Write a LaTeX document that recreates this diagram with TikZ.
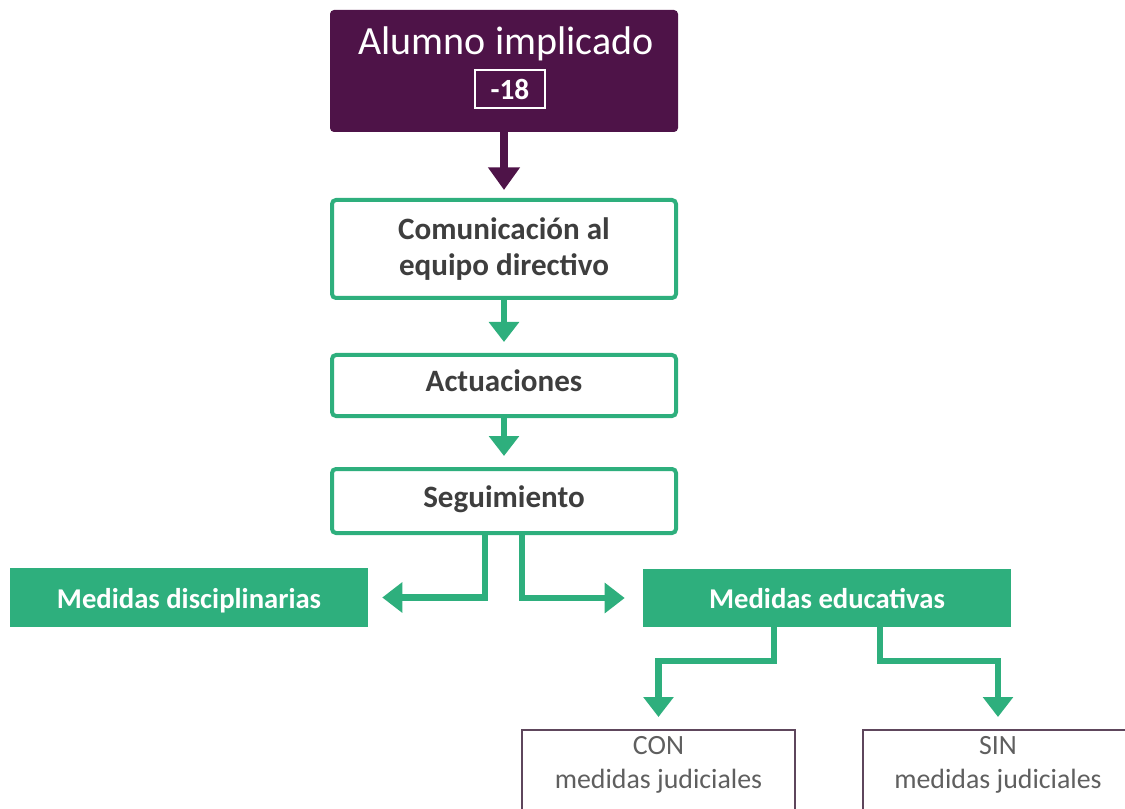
\documentclass[tikz,border=0pt]{standalone}
\usepackage{fontspec}
\setmainfont{Carlito}
\usepackage{tikz}
\newcommand{\boxwidth}{258pt}
\newcommand{\gap}{8.25pt}
\usetikzlibrary{arrows.meta,calc,positioning}
\definecolor{verde}{RGB}{46,175,125}
\definecolor{morado}{RGB}{78,19,72}
\definecolor{texto}{RGB}{62,62,62}
\definecolor{gris}{RGB}{95,95,95}
\definecolor{borde}{RGB}{94,70,92}
\tikzset{
  topbox/.style={fill=morado,rounded corners=3pt,minimum width=261pt,minimum height=91.5pt,inner sep=0},
  title/.style={text=white,font=\fontsize{30}{36}\selectfont,inner sep=0,anchor=base},
  agebox/.style={draw=white,line width=1.5pt,text=white,font=\bfseries\fontsize{22}{26}\selectfont,minimum width=52pt,minimum height=28pt,inner sep=0},
  stepbox/.style={draw=verde,line width=3pt,fill=white,rounded corners=3pt,minimum width=\boxwidth,text=texto,font=\bfseries\fontsize{23.3}{26.5}\selectfont,align=center,inner sep=0},
  oneline/.style={text height=15pt,text depth=6pt},
  measure/.style={fill=verde,text=white,font=\bfseries\fontsize{21.5}{25}\selectfont,inner sep=0,text height=16pt,text depth=0pt},
  judbox/.style={draw=borde,line width=1.2pt,text=gris,font=\fontsize{20.9}{25.5}\selectfont,align=center,anchor=north,inner xsep=0,inner ysep=5pt},
  line/.style={draw=verde,line width=5pt,-{Triangle[width=22pt,length=15pt]}},
  topline/.style={draw=morado,line width=6pt,-{Triangle[width=23pt,length=17pt]}}
}
\begin{document}
\begin{tikzpicture}[x=0.75pt,y=-0.75pt]
  \useasboundingbox (0,0) rectangle (1125,809);

  % top box
  \node (alumno) [topbox] at (504,71) {};
  \node (titulo) [title] at (506,55) {Alumno implicado};
  \node (edad) [agebox] at (510,89) {-18};

  % steps
  \node (comunic) [stepbox,minimum height=73.5pt] at (504,249) {Comunicación al\\equipo directivo};
  \node (actuac) [stepbox,oneline,minimum height=45.75pt] at (504,385.5) {Actuaciones};
  \node (seguim) [stepbox,oneline,minimum height=48pt] at (504,501) {Seguimiento};

  % measures
  \node (discip) [measure,minimum width=268.5pt,minimum height=44.25pt] at (189,597.5) {Medidas disciplinarias};
  \node (educ) [measure,minimum width=276pt,minimum height=43.5pt] at (827,598) {Medidas educativas};

  \node (con) [judbox,minimum width=204.75pt] at (658.5,729) {CON\\medidas judiciales\rule[-40pt]{0pt}{0pt}};
  \node (sin) [judbox,minimum width=202.5pt] at (998,729) {SIN\\medidas judiciales\rule[-40pt]{0pt}{0pt}};

  % connectors
  \coordinate (segL) at (485,560);
  \coordinate (segR) at (522,560);
  \coordinate (educL) at (774,661);
  \coordinate (educR) at (880,661);

  \path [topline,shorten >=6pt] (alumno) -- (comunic);
  \path [line,shorten >=\gap] (comunic) -- (actuac);
  \path [line,shorten >=\gap] (actuac) -- (seguim);
  \path [line,shorten >=10.5pt] (seguim.south -| segL) |- (discip.east);
  \path [line,shorten >=13.5pt] (seguim.south -| segR) |- (educ.west);
  \path [line,shorten >=9pt] (educ.south -| educL) -- (educL) -| (con.north);
  \path [line,shorten >=9pt] (educ.south -| educR) -- (educR) -| (sin.north);
\end{tikzpicture}
\end{document}
